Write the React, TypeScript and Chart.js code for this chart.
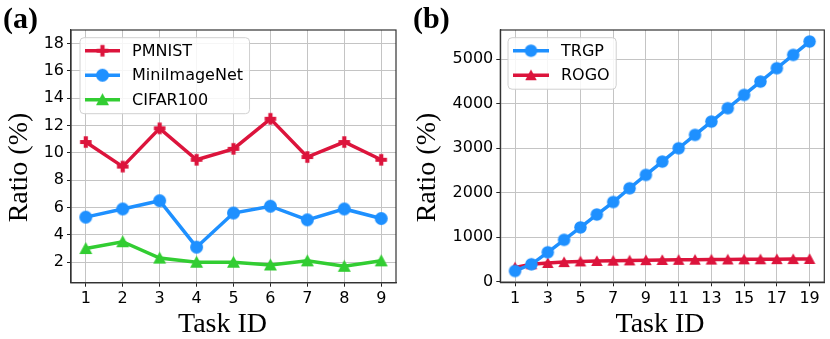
import React, { useEffect, useRef } from "react";
import { Chart, registerables } from "chart.js";

Chart.register(...registerables);

// ---------- Panel (a) data ----------
const tasksA = [1, 2, 3, 4, 5, 6, 7, 8, 9];
const pmnist = [10.8, 9.0, 11.8, 9.5, 10.3, 12.5, 9.7, 10.8, 9.5];
const miniImageNet = [5.3, 5.9, 6.5, 3.1, 5.6, 6.1, 5.1, 5.9, 5.2];
const cifar100 = [3.0, 3.5, 2.3, 2.0, 2.0, 1.8, 2.1, 1.7, 2.1];
const xTicksA = [1, 2, 3, 4, 5, 6, 7, 8, 9];
const yTicksA = [2, 4, 6, 8, 10, 12, 14, 16, 18];

// ---------- Panel (b) data ----------
const tasksB = [1, 2, 3, 4, 5, 6, 7, 8, 9, 10, 11, 12, 13, 14, 15, 16, 17, 18, 19];
const trgp = [240, 390, 660, 940, 1220, 1510, 1790, 2100, 2400, 2700, 3000, 3300, 3600, 3900, 4200, 4500, 4800, 5100, 5400];
const rogo = [320, 390, 420, 440, 455, 465, 472, 478, 483, 487, 490, 493, 496, 499, 501, 503, 505, 507, 510];
const xTicksB = [1, 3, 5, 7, 9, 11, 13, 15, 17, 19];
const yTicksB = [0, 1000, 2000, 3000, 4000, 5000];

const RED = "#DC143C";
const BLUE = "#1E90FF";
const GREEN = "#32CD32";
const TICK_FONT = { family: "'DejaVu Sans', sans-serif", size: 16 };
const W = 415;
const H = 339;

function makeMarker(kind: string, color: string, size: number) {
  const s = Math.ceil(size) + 2;
  const c = document.createElement("canvas");
  c.width = s;
  c.height = s;
  const g = c.getContext("2d")!;
  g.fillStyle = color;
  const m = s / 2;
  const h = size / 2;
  g.beginPath();
  if (kind === "circle") {
    g.arc(m, m, h, 0, Math.PI * 2);
  } else if (kind === "triangle") {
    g.moveTo(m, m - h);
    g.lineTo(m + h, m + h * 0.85);
    g.lineTo(m - h, m + h * 0.85);
    g.closePath();
  } else {
    const t = size / 5.5;
    g.rect(m - h, m - t, size, 2 * t);
    g.rect(m - t, m - h, 2 * t, size);
  }
  g.fill();
  return c;
}

const decoPlugin = {
  id: "deco",
  afterDraw(chart: any, _args: any, opts: any) {
    const { ctx, chartArea: a } = chart;
    ctx.save();
    // frame
    ctx.strokeStyle = "#333";
    ctx.lineWidth = 1.2;
    ctx.strokeRect(a.left, a.top, a.right - a.left, a.bottom - a.top);

    // legend
    const items = opts.items as any[];
    ctx.font = "16px 'DejaVu Sans', sans-serif";
    const maxW = Math.max(...items.map((i) => ctx.measureText(i.label).width));
    const x0 = a.left + opts.dx;
    const y0 = a.top + opts.dy;
    const w = opts.textOffset + maxW + 6.5;
    const h = 13 + (items.length - 1) * 24.5 + 14;
    ctx.beginPath();
    const r = 4;
    ctx.moveTo(x0 + r, y0);
    ctx.arcTo(x0 + w, y0, x0 + w, y0 + h, r);
    ctx.arcTo(x0 + w, y0 + h, x0, y0 + h, r);
    ctx.arcTo(x0, y0 + h, x0, y0, r);
    ctx.arcTo(x0, y0, x0 + w, y0, r);
    ctx.closePath();
    ctx.fillStyle = "rgba(255,255,255,0.85)";
    ctx.fill();
    ctx.strokeStyle = "#d0d0d0";
    ctx.lineWidth = 1;
    ctx.stroke();
    items.forEach((it, i) => {
      const cy = y0 + 13 + i * 24.5;
      ctx.strokeStyle = it.color;
      ctx.lineWidth = it.lineWidth;
      ctx.beginPath();
      ctx.moveTo(x0 + 5, cy);
      ctx.lineTo(x0 + 5 + opts.handle, cy);
      ctx.stroke();
      const img = it.marker as HTMLCanvasElement;
      ctx.drawImage(img, x0 + 5 + opts.handle / 2 - img.width / 2, cy - img.height / 2);
      ctx.fillStyle = "#000";
      ctx.textBaseline = "middle";
      ctx.textAlign = "left";
      ctx.fillText(it.label, x0 + opts.textOffset, cy + 1);
    });

    // axis titles
    ctx.fillStyle = "#000";
    ctx.font = "28px 'Liberation Serif', 'Times New Roman', serif";
    ctx.textAlign = "center";
    ctx.textBaseline = "alphabetic";
    ctx.fillText(opts.xTitle.text, opts.xTitle.x, opts.xTitle.y);
    ctx.save();
    ctx.translate(opts.yTitle.x, opts.yTitle.y);
    ctx.rotate(-Math.PI / 2);
    ctx.fillText(opts.yTitle.text, 0, 0);
    ctx.restore();
    ctx.restore();
  },
};

function axis(min: number, max: number, ticks: number[], fitKey: "width" | "height", fitVal: number) {
  return {
    type: "linear" as const,
    min,
    max,
    afterBuildTicks: (s: any) => {
      s.ticks = ticks.map((v) => ({ value: v }));
    },
    afterFit: (s: any) => {
      s[fitKey] = fitVal;
    },
    grid: {
      color: "#c4c4c4",
      lineWidth: 1,
      tickColor: "#222",
      tickLength: 4,
      drawTicks: true,
    },
    border: { color: "#333", width: 1.2 },
    ticks: {
      font: TICK_FONT,
      color: "#000",
      padding: 3,
      maxRotation: 0,
      autoSkip: false,
      callback: (v: any) => String(v),
    },
  };
}

export default function App() {
  const refA = useRef<HTMLCanvasElement>(null);
  const refB = useRef<HTMLCanvasElement>(null);

  useEffect(() => {
    const plusA = makeMarker("plus", RED, 11.5);
    const circA = makeMarker("circle", BLUE, 13);
    const triA = makeMarker("triangle", GREEN, 13);
    const circB = makeMarker("circle", BLUE, 12.5);
    const triB = makeMarker("triangle", RED, 11.5);

    const ds = (label: string, xs: number[], ys: number[], color: string, marker: any, lw: number) => ({
      label,
      data: xs.map((x, i) => ({ x, y: ys[i] })),
      borderColor: color,
      backgroundColor: color,
      borderWidth: lw,
      pointStyle: marker,
      pointRadius: 6,
      pointBorderWidth: 0,
      tension: 0,
      clip: false as any,
    });

    const chartA = new Chart(refA.current!, {
      type: "line",
      data: {
        datasets: [
          ds("PMNIST", tasksA, pmnist, RED, plusA, 3.5),
          ds("MiniImageNet", tasksA, miniImageNet, BLUE, circA, 3.5),
          ds("CIFAR100", tasksA, cifar100, GREEN, triA, 3.5),
        ],
      },
      options: {
        responsive: false,
        animation: false,
        events: [],
        layout: { padding: { top: 30, right: W - 396, left: 0, bottom: 0 }, autoPadding: false } as any,
        plugins: {
          legend: { display: false },
          tooltip: { enabled: false },
          deco: {
            items: [
              { label: "PMNIST", color: RED, marker: plusA, lineWidth: 3.5 },
              { label: "MiniImageNet", color: BLUE, marker: circA, lineWidth: 3.5 },
              { label: "CIFAR100", color: GREEN, marker: triA, lineWidth: 3.5 },
            ],
            dx: 9,
            dy: 7.7,
            handle: 35,
            textOffset: 52,
            xTitle: { text: "Task ID", x: 222.5, y: 331.7 },
            yTitle: { text: "Ratio (%)", x: 26.7, y: 167.5 },
          },
        } as any,
        scales: {
          x: axis(0.6, 9.4, xTicksA, "height", H - 282.7),
          y: axis(0.5, 19, yTicksA, "width", 71),
        },
      },
      plugins: [decoPlugin],
    });

    const chartB = new Chart(refB.current!, {
      type: "line",
      data: {
        datasets: [
          ds("TRGP", tasksB, trgp, BLUE, circB, 3.5),
          ds("ROGO", tasksB, rogo, RED, triB, 3.5),
        ],
      },
      options: {
        responsive: false,
        animation: false,
        events: [],
        layout: { padding: { top: 30, right: W - 409.3, left: 0, bottom: 0 }, autoPadding: false } as any,
        plugins: {
          legend: { display: false },
          tooltip: { enabled: false },
          deco: {
            items: [
              { label: "TRGP", color: BLUE, marker: circB, lineWidth: 3.5 },
              { label: "ROGO", color: RED, marker: triB, lineWidth: 3.5 },
            ],
            dx: 7.7,
            dy: 7.7,
            handle: 36,
            textOffset: 53,
            xTitle: { text: "Task ID", x: 245, y: 331.7 },
            yTitle: { text: "Ratio (%)", x: 20, y: 167.5 },
          },
        } as any,
        scales: {
          x: axis(0.1, 19.9, xTicksB, "height", H - 282.3),
          y: axis(-15, 5660, yTicksB, "width", 85.3),
        },
      },
      plugins: [decoPlugin],
    });

    return () => {
      chartA.destroy();
      chartB.destroy();
    };
  }, []);

  const label: React.CSSProperties = {
    position: "absolute",
    top: 3,
    fontFamily: "'Liberation Serif', 'Times New Roman', serif",
    fontWeight: "bold",
    fontSize: 30,
    lineHeight: "30px",
    color: "#000",
  };

  return (
    <div style={{ position: "absolute", left: 0, top: 0, width: 830, height: 339, background: "#fff", overflow: "hidden" }}>
      <canvas ref={refA} width={W} height={H} style={{ position: "absolute", left: 0, top: 0, width: W, height: H }} />
      <canvas ref={refB} width={W} height={H} style={{ position: "absolute", left: W, top: 0, width: W, height: H }} />
      <div style={{ ...label, left: 3 }}>(a)</div>
      <div style={{ ...label, left: 413 }}>(b)</div>
    </div>
  );
}
